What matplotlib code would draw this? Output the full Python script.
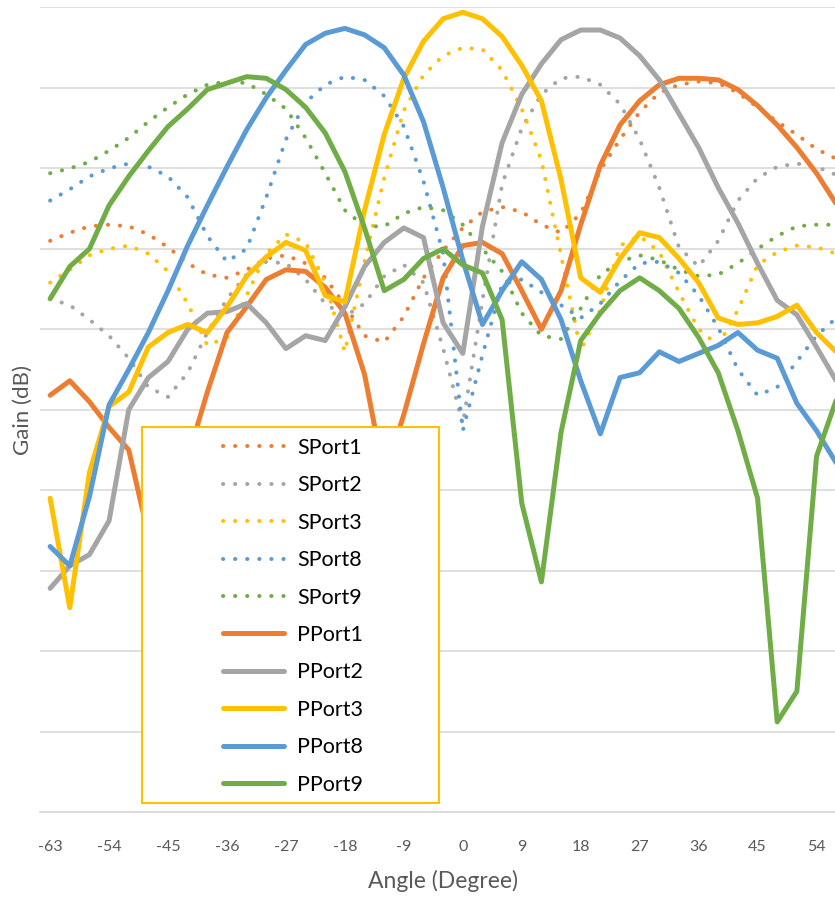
import matplotlib
matplotlib.use("Agg")
import matplotlib.pyplot as plt
from matplotlib.patches import Rectangle

plt.rcParams['font.family'] = ['Lato', 'DejaVu Sans']

# angle categories (degrees)
angles = [-63, -60, -57, -54, -51, -48, -45, -42, -39, -36, -33, -30, -27, -24,
          -21, -18, -15, -12, -9, -6, -3, 0, 3, 6, 9, 12, 15, 18, 21, 24, 27,
          30, 33, 36, 39, 42, 45, 48, 51, 54, 57]
tick_angles = [-63, -54, -45, -36, -27, -18, -9, 0, 9, 18, 27, 36, 45, 54]

# gain values (dB)
sport1 = [-14.5, -14.0, -13.6, -13.5, -13.6, -14.1, -14.9, -15.9, -16.6, -16.8,
          -16.3, -15.6, -15.4, -15.9, -16.8, -18.5, -20.4, -20.8, -19.2, -16.8,
          -15.1, -13.7, -12.7, -12.4, -12.7, -13.5, -14.0, -12.8, -10.1, -8.2,
          -6.5, -5.3, -4.8, -4.6, -4.7, -5.3, -6.2, -7.1, -7.9, -8.8, -9.4]
sport2 = [-18.1, -18.5, -19.4, -20.4, -21.8, -23.6, -24.2, -22.7, -20.2, -18.1,
          -16.6, -15.8, -15.9, -16.9, -18.4, -19.2, -18.4, -16.7, -16.0, -17.1,
          -21.2, -25.9, -18.2, -11.0, -7.5, -5.4, -4.4, -4.3, -4.8, -6.0,
          -8.2, -11.2, -14.9, -16.1, -14.5, -12.0, -10.6, -9.9, -9.7, -9.9, -10.4]
sport3 = [-17.1, -16.3, -15.4, -15.0, -14.8, -15.3, -16.4, -18.4, -21.0, -20.5,
          -17.9, -15.3, -14.1, -14.6, -17.1, -21.4, -15.8, -10.6, -6.4, -4.2,
          -3.0, -2.5, -2.6, -3.9, -6.3, -9.5, -15.4, -21.3, -18.8, -14.8,
          -14.2, -15.2, -17.7, -20.0, -21.0, -18.8, -16.0, -15.2, -14.8, -14.9, -15.3]
sport8 = [-12.0, -11.3, -10.5, -10.0, -9.7, -9.9, -10.5, -11.8, -14.2, -15.8,
          -15.0, -11.8, -8.2, -5.9, -4.8, -4.3, -4.5, -5.5, -7.4, -10.8,
          -15.3, -26.3, -21.6, -17.2, -16.9, -17.7, -18.5, -19.3, -18.4, -17.0,
          -15.9, -15.8, -16.5, -17.9, -19.9, -22.5, -24.1, -23.6, -22.0, -20.4, -19.3]
sport9 = [-10.3, -10.0, -9.6, -8.9, -8.1, -7.1, -6.2, -5.4, -4.8, -4.6,
          -4.7, -5.4, -6.3, -8.1, -10.3, -12.6, -13.6, -13.6, -12.8, -12.4,
          -12.6, -13.5, -15.0, -16.4, -19.0, -20.4, -20.6, -18.7, -16.6, -15.8,
          -15.4, -15.7, -16.3, -16.7, -16.6, -15.9, -15.0, -14.2, -13.6, -13.5, -13.5]
pport1 = [-24.1, -23.2, -24.5, -26.1, -27.5, -32.8, -34.0, -28.0, -23.9, -20.2,
          -18.6, -16.9, -16.3, -16.4, -17.4, -19.0, -22.8, -29.1, -25.3, -20.9,
          -16.8, -14.8, -14.6, -15.3, -17.6, -20.0, -17.6, -13.5, -9.8, -7.3,
          -5.8, -4.8, -4.4, -4.4, -4.5, -5.1, -6.1, -7.3, -8.7, -10.3, -12.2]
pport2 = [-36.1, -34.7, -34.0, -31.9, -25.0, -23.0, -22.0, -20.0, -19.0, -18.9,
          -18.4, -19.6, -21.2, -20.4, -20.7, -18.6, -16.1, -14.6, -13.7, -14.3,
          -19.6, -21.5, -13.6, -8.4, -5.4, -3.5, -2.0, -1.4, -1.4, -1.9,
          -3.0, -4.5, -6.6, -8.7, -11.2, -13.4, -15.9, -18.2, -19.1, -21.1, -23.2]
pport3 = [-30.5, -37.3, -28.9, -24.8, -23.9, -21.1, -20.2, -19.7, -20.2, -18.6,
          -16.7, -15.5, -14.6, -15.1, -17.9, -18.3, -12.6, -7.9, -4.4, -2.1,
          -0.7, -0.3, -0.7, -1.8, -3.6, -5.8, -10.7, -16.8, -17.7, -15.6,
          -14.0, -14.3, -15.6, -17.1, -19.3, -19.7, -19.6, -19.2, -18.5, -20.2, -21.4]
pport8 = [-33.5, -34.7, -30.4, -24.7, -22.5, -20.2, -17.6, -14.8, -12.3, -9.9,
          -7.6, -5.6, -3.9, -2.3, -1.6, -1.3, -1.7, -2.5, -4.2, -7.1,
          -11.2, -15.7, -19.7, -17.6, -15.8, -16.9, -19.4, -23.2, -26.5, -23.0,
          -22.7, -21.4, -22.0, -21.5, -21.0, -20.2, -21.3, -21.8, -24.6, -26.3, -28.3]
pport9 = [-18.1, -16.1, -15.0, -12.3, -10.5, -8.9, -7.4, -6.3, -5.1, -4.7,
          -4.3, -4.4, -5.1, -6.2, -7.8, -10.2, -13.7, -17.6, -16.9, -15.6,
          -15.0, -16.0, -16.5, -19.4, -30.8, -35.7, -26.4, -20.7, -19.0, -17.6,
          -16.8, -17.6, -18.7, -20.5, -22.7, -26.3, -30.5, -44.4, -42.5, -27.9, -24.4]

ORANGE, GRAY, YELLOW, BLUE, GREEN = '#ED7D31', '#A5A5A5', '#FFC000', '#5B9BD5', '#70AD47'

series = [
    ("SPort1", sport1, ORANGE, ':'),
    ("SPort2", sport2, GRAY, ':'),
    ("SPort3", sport3, YELLOW, ':'),
    ("SPort8", sport8, BLUE, ':'),
    ("SPort9", sport9, GREEN, ':'),
    ("PPort1", pport1, ORANGE, '-'),
    ("PPort2", pport2, GRAY, '-'),
    ("PPort3", pport3, YELLOW, '-'),
    ("PPort8", pport8, BLUE, '-'),
    ("PPort9", pport9, GREEN, '-'),
]

W, H = 835, 897
fig = plt.figure(figsize=(W / 100, H / 100), dpi=100)
# plot area: x from -64.5 (px 40) to 58.5 (px 846), y 0 (px 7.5) to -50 (px 812)
ax = fig.add_axes([40.3 / W, (H - 812) / H, 805.7 / W, 804.5 / H])

for name, vals, color, style in series:
    if style == ':':
        ax.plot(angles, vals, color=color, lw=2.9, linestyle=(0, (0.05, 2.95)),
                dash_capstyle='round', label=name)
    else:
        ax.plot(angles, vals, color=color, lw=3.6, solid_joinstyle='round',
                solid_capstyle='round', label=name)

ax.set_xlim(-64.5, 58.5)
ax.set_ylim(-50, 0)
ax.set_yticks(range(-50, 1, 5))
ax.set_yticklabels([])
ax.set_xticks(tick_angles)
ax.set_xticklabels([str(a) for a in tick_angles])
ax.tick_params(axis='both', length=0)
ax.tick_params(axis='y', pad=0)
ax.tick_params(axis='x', pad=20.5, labelsize=11.5, labelcolor='#595959')
ax.grid(axis='y', color='#D9D9D9', lw=1.2)
ax.set_axisbelow(True)
for s in ['top', 'right', 'left']:
    ax.spines[s].set_visible(False)
ax.spines['bottom'].set_color('#D9D9D9')
ax.spines['bottom'].set_linewidth(1.2)

ax.set_xlabel('Angle (Degree)', fontsize=16.5, color='#595959', labelpad=11)
ax.set_ylabel('Gain (dB)', fontsize=16, color='#595959', labelpad=5)

# legend box
box = Rectangle((142 / W, (H - 803) / H), 297 / W, 376 / H, transform=fig.transFigure,
                facecolor='white', edgecolor=YELLOW, lw=1.5, zorder=10, clip_on=False)
ax.add_patch(box)
leg = ax.legend(loc='upper left', bbox_to_anchor=(212 / W, 1 - 427 / H),
                bbox_transform=fig.transFigure, frameon=False, borderpad=0,
                handlelength=2.85, handletextpad=0.6, labelspacing=0.81,
                prop={'size': 15.5})
leg.set_zorder(11)

fig.savefig('out.png', dpi=100)
